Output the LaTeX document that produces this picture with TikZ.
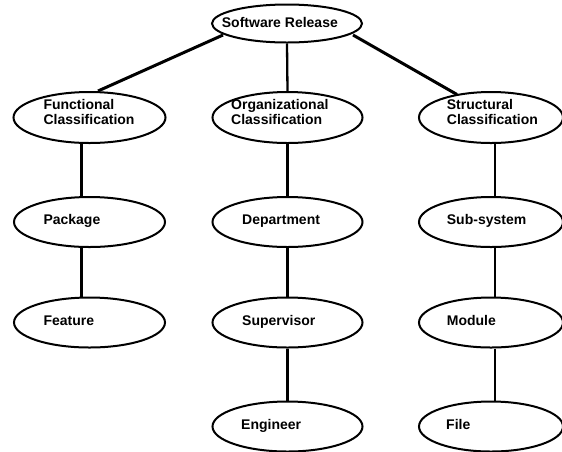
\documentclass[tikz,border=0pt]{standalone}
\usepackage{fontspec}
\setmainfont{Liberation Sans}
\usetikzlibrary{shapes.geometric}
\tikzset{
  oval/.style={ellipse, draw=black, line width=2pt, inner sep=0pt,
    minimum width=150pt, minimum height=50pt},
  lbl/.style={inner sep=0pt, anchor=base west,
    font=\fontsize{14}{15}\selectfont\bfseries},
  lbltwo/.style={inner sep=0pt, anchor=north west, align=left,
    font=\fontsize{14}{15}\selectfont\bfseries},
  vline/.style={line width=2.3pt},
  dline/.style={line width=3pt},
}
\begin{document}
\begin{tikzpicture}[x=1pt,y=-1pt]
\useasboundingbox (0,0) rectangle (562,451);
% ellipses
\node[oval, minimum width=150pt, minimum height=38pt] (sr) at (287,23.5) {};
\node[oval, minimum width=152pt, minimum height=51pt] (fc) at (89.5,117.5) {};
\node[oval, minimum width=150pt, minimum height=51pt] (oc) at (287.5,117.5) {};
\node[oval, minimum width=144pt, minimum height=51pt] (sc) at (491,117.5) {};
\node[oval, minimum width=151pt] (pk) at (89.5,222) {};
\node[oval] (dp) at (287.5,222) {};
\node[oval, minimum width=144pt] (ss) at (491,222) {};
\node[oval, minimum width=151pt] (ft) at (89.5,322.5) {};
\node[oval] (sv) at (287.5,322.5) {};
\node[oval, minimum width=144pt] (md) at (491,322.5) {};
\node[oval] (en) at (287.5,426.5) {};
\node[oval, minimum width=144pt] (fl) at (491,426.5) {};
% labels
\node[lbl] (srT) at (221.7,27.3) {Software Release};
\node[lbltwo] (fcT) at (43.3,99.3) {Functional\\Classification};
\node[lbltwo] (ocT) at (231,99.3) {Organizational\\Classification};
\node[lbltwo] (scT) at (446.7,99.3) {Structural\\Classification};
\node[lbl] (pkT) at (43.3,224) {Package};
\node[lbl] (dpT) at (242,224) {Department};
\node[lbl] (ssT) at (446.7,224) {Sub-system};
\node[lbl] (ftT) at (43.3,325) {Feature};
\node[lbl] (svT) at (242,325) {Supervisor};
\node[lbl] (mdT) at (446.7,325) {Module};
\node[lbl] (enT) at (241,429) {Engineer};
\node[lbl] (flT) at (446,429) {File};
% connectors
\draw[dline] ([shift={(-64,11.5)}]sr.center) -- ([xshift=8.5pt]fc.north);
\draw[dline] ([shift={(66,11.5)}]sr.center) -- ([shift={(-34,-23)}]sc.center);
\draw[vline] (sr.south) -- (oc.north);
\draw[vline] ([xshift=-8pt]fc.south) -- ([xshift=-8pt]pk.north);
\draw[vline] ([xshift=-8pt]pk.south) -- ([xshift=-8pt]ft.north);
\draw[vline] (oc.south) -- (dp.north);
\draw[vline] (dp.south) -- (sv.north);
\draw[vline] (sv.south) -- (en.north);
\draw[vline] ([xshift=4pt]sc.south) -- ([xshift=4pt]ss.north);
\draw[vline] ([xshift=4pt]ss.south) -- ([xshift=4pt]md.north);
\draw[vline] ([xshift=4pt]md.south) -- ([xshift=4pt]fl.north);
\end{tikzpicture}
\end{document}
